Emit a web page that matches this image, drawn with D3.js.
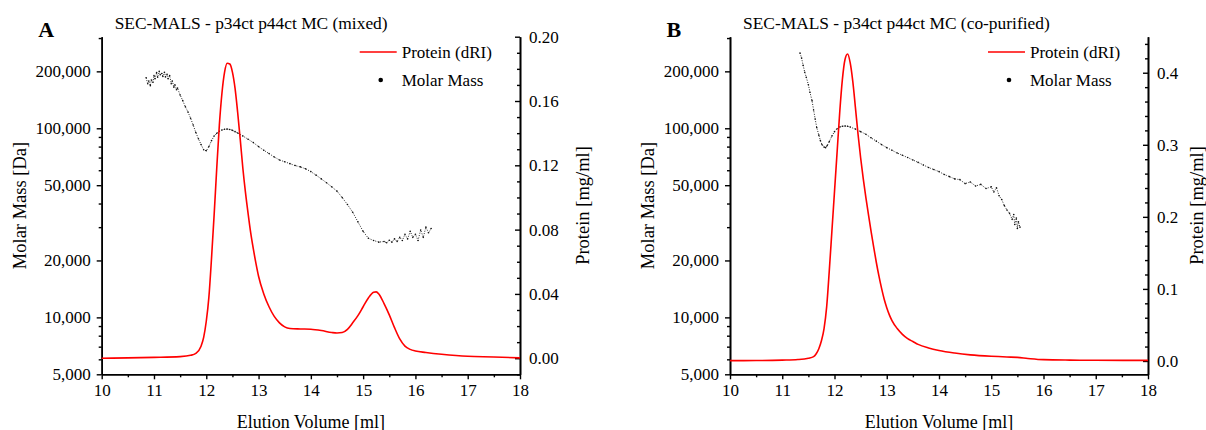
<!DOCTYPE html>
<html>
<head>
<meta charset="utf-8">
<script src="https://cdn.jsdelivr.net/npm/d3@7"></script>
<style>
body { margin: 0; background: #fff; }
text { font-family: "Liberation Serif", "DejaVu Serif", serif; fill: #000; }
</style>
</head>
<body>
<svg id="chart" width="1206" height="430"></svg>
<script>
// panel A : mixed
var volA  = [10.0, 10.5, 11.0, 11.5, 11.7, 11.8, 11.9, 11.95, 12.0, 12.05, 12.1, 12.15, 12.2, 12.25, 12.3, 12.35, 12.4, 12.45,
             12.5, 12.55, 12.6, 12.65, 12.7, 12.75, 12.8, 12.85, 12.9, 12.95, 13.0, 13.1, 13.2, 13.3, 13.4, 13.5, 13.6, 13.8,
             14.0, 14.2, 14.4, 14.5, 14.6, 14.7, 14.8, 14.9, 15.0, 15.1, 15.2, 15.25, 15.3, 15.4, 15.5, 15.6, 15.7, 15.8,
             15.9, 16.0, 16.2, 16.5, 17.0, 17.5, 18.0];
var protA = [0.0000, 0.0002, 0.0005, 0.0010, 0.0018, 0.0030, 0.0075, 0.0130, 0.0230, 0.0380, 0.0620, 0.0890, 0.1180, 0.1450,
             0.1650, 0.1780, 0.1835, 0.1830, 0.1780, 0.1680, 0.1530, 0.1360, 0.1180, 0.1030, 0.0900, 0.0780, 0.0680, 0.0590,
             0.0510, 0.0400, 0.0320, 0.0260, 0.0220, 0.0195, 0.0185, 0.0182, 0.0180, 0.0172, 0.0160, 0.0157, 0.0160, 0.0180,
             0.0220, 0.0265, 0.0320, 0.0375, 0.0410, 0.0413, 0.0400, 0.0340, 0.0270, 0.0190, 0.0120, 0.0075, 0.0055, 0.0045,
             0.0036, 0.0025, 0.0012, 0.0008, 0.0002];
var mmVolA = [10.85, 10.88, 10.9, 10.93, 10.95, 10.98, 11.0, 11.02, 11.05, 11.07, 11.1, 11.12, 11.15, 11.17, 11.2, 11.22,
              11.25, 11.27, 11.3, 11.33, 11.35, 11.38, 11.4, 11.43, 11.45, 11.5, 11.55, 11.6, 11.65, 11.7, 11.75, 11.8,
              11.85, 11.9, 11.95, 12.0, 12.05, 12.1, 12.15, 12.2, 12.25, 12.3, 12.35, 12.4, 12.45, 12.5, 12.55, 12.6, 12.7,
              12.8, 12.9, 13.0, 13.1, 13.2, 13.3, 13.4, 13.5, 13.6, 13.7, 13.8, 13.9, 14.0, 14.1, 14.2, 14.3, 14.4, 14.5,
              14.6, 14.7, 14.8, 14.9, 15.0, 15.1, 15.2, 15.3, 15.4, 15.45, 15.5, 15.55, 15.6, 15.65, 15.7, 15.75, 15.8,
              15.85, 15.9, 15.95, 16.0, 16.05, 16.1, 16.15, 16.2, 16.25, 16.3];
var mmA = [185000, 172000, 178000, 168000, 180000, 175000, 190000, 183000, 197000, 186000, 200000, 192000, 195000, 188000,
           198000, 187000, 193000, 183000, 190000, 172000, 178000, 165000, 170000, 160000, 163000, 150000, 140000, 130000,
           122000, 113000, 104000, 95000, 88000, 82000, 77000, 76000, 80000, 86000, 91000, 94000, 96500, 98000, 98800,
           99000, 98600, 97500, 96000, 94500, 91000, 87500, 84000, 80000, 76500, 73500, 70500, 68000, 66500, 65000, 63500,
           62500, 61000, 59000, 56500, 54000, 51500, 49000, 46500, 43000, 39500, 36000, 32000, 28500, 26200, 25500, 25000,
           25200, 24800, 25600, 25000, 26000, 25200, 26500, 25500, 27500, 26000, 28500, 26500, 27500, 25500, 29000, 26500,
           30000, 28000, 29500];

// panel B : co-purified
var volB  = [10.0, 10.5, 11.0, 11.3, 11.5, 11.6, 11.65, 11.7, 11.75, 11.8, 11.85, 11.9, 11.95, 12.0, 12.05, 12.1, 12.15,
             12.2, 12.25, 12.3, 12.35, 12.4, 12.45, 12.5, 12.55, 12.6, 12.65, 12.7, 12.75, 12.8, 12.85, 12.9, 12.95, 13.0,
             13.05, 13.1, 13.2, 13.3, 13.4, 13.5, 13.6, 13.8, 14.0, 14.3, 14.6, 15.0, 15.3, 15.5, 15.7, 16.0, 16.5, 17.0, 18.0];
var protB = [0.0005, 0.0006, 0.0012, 0.0020, 0.0038, 0.0060, 0.0100, 0.0170, 0.0280, 0.0450, 0.0750, 0.1250, 0.1800,
             0.2350, 0.2900, 0.3450, 0.3900, 0.4180, 0.4260, 0.4140, 0.3880, 0.3520, 0.3150, 0.2820, 0.2530, 0.2270,
             0.2030, 0.1800, 0.1580, 0.1370, 0.1180, 0.1010, 0.0860, 0.0740, 0.0640, 0.0560, 0.0450, 0.0370, 0.0310,
             0.0270, 0.0230, 0.0180, 0.0145, 0.0110, 0.0085, 0.0065, 0.0055, 0.0050, 0.0035, 0.0018, 0.0012, 0.0010, 0.0008];
var mmVolB = [11.34, 11.37, 11.4, 11.43, 11.46, 11.5, 11.53, 11.57, 11.6, 11.63, 11.66, 11.7, 11.73, 11.76, 11.8, 11.83,
              11.86, 11.9, 11.95, 12.0, 12.05, 12.1, 12.15, 12.2, 12.25, 12.3, 12.4, 12.5, 12.6, 12.7, 12.8, 12.9, 13.0,
              13.1, 13.2, 13.3, 13.4, 13.5, 13.6, 13.7, 13.8, 13.9, 14.0, 14.1, 14.2, 14.3, 14.4, 14.5, 14.6, 14.7, 14.8,
              14.9, 15.0, 15.05, 15.1, 15.15, 15.2, 15.25, 15.3, 15.35, 15.4, 15.43, 15.45, 15.48, 15.5, 15.52, 15.55];
var mmB = [250000, 235000, 215000, 198000, 186000, 170000, 155000, 140000, 125000, 112000, 101000, 92000, 86000, 82000,
           79500, 79000, 81000, 85000, 91000, 96000, 99500, 101500, 102500, 102800, 102500, 101500, 99000, 96000, 93000,
           89000, 85500, 82000, 79000, 76500, 74000, 72000, 70000, 68000, 66000, 64000, 62000, 60500, 59000, 57000, 55500,
           54000, 53500, 51000, 52000, 49500, 50500, 48000, 49000, 46000, 48500, 44000, 42000, 39000, 37000, 35500, 33000,
           35000, 31000, 33500, 29500, 32000, 30000];

// axes
var xTicks = [10, 11, 12, 13, 14, 15, 16, 17, 18];
var massTicks = [5000, 10000, 20000, 50000, 100000, 200000];
var massMinor = [6000, 7000, 8000, 9000, 30000, 40000, 60000, 70000, 80000, 90000, 300000];
var protTicksA = [0, 0.04, 0.08, 0.12, 0.16, 0.2];
var protTicksB = [0, 0.1, 0.2, 0.3, 0.4];

var svg = d3.select("#chart");
var top_ = 36.7, bottom_ = 374.3;

var panels = [
  {letter: "A", title: "SEC-MALS - p34ct p44ct MC (mixed)", left: 101.7, right: 520,
   vol: volA, prot: protA, mmVol: mmVolA, mm: mmA,
   rDomain: [-0.01, 0.2], rTicks: protTicksA, rStep: 0.01, rFmt: ".2f", rLabelX: 589},
  {letter: "B", title: "SEC-MALS - p34ct p44ct MC (co-purified)", left: 730, right: 1148,
   vol: volB, prot: protB, mmVol: mmVolB, mm: mmB,
   rDomain: [-0.0185, 0.45], rTicks: protTicksB, rStep: 0.02, rFmt: ".1f", rLabelX: 1203}
];

panels.forEach(function(p) {
  var g = svg.append("g");

  var x = d3.scaleLinear().domain([10, 18]).range([p.left, p.right]);
  var yL = d3.scaleLog().domain([5000, 305000]).range([bottom_, top_]);
  var yR = d3.scaleLinear().domain(p.rDomain).range([bottom_, top_]);

  // minor ticks
  var xMinor = d3.range(10.5, 18, 1);
  var rMinor = d3.range(Math.ceil(p.rDomain[0] / p.rStep) * p.rStep, p.rDomain[1] + 1e-9, p.rStep)
                 .filter(function(v) { return !p.rTicks.some(function(t) { return Math.abs(t - v) < 1e-6; }); });

  function styleAxis(sel) {
    sel.select(".domain").attr("stroke-width", 1.6);
    sel.selectAll(".tick line").attr("stroke-width", 1.4);
    sel.selectAll(".tick text").style("font-family", "Liberation Serif").style("font-size", "17px");
  }

  g.append("g").attr("transform", "translate(0," + bottom_ + ")")
    .call(d3.axisBottom(x).tickValues(xMinor).tickSize(3).tickSizeOuter(0).tickFormat(""))
    .call(styleAxis);
  g.append("g").attr("transform", "translate(0," + bottom_ + ")")
    .call(d3.axisBottom(x).tickValues(xTicks).tickSize(5).tickSizeOuter(0).tickPadding(5).tickFormat(d3.format("d")))
    .call(styleAxis);

  g.append("g").attr("transform", "translate(" + p.left + ",0)")
    .call(d3.axisLeft(yL).tickValues(massMinor).tickSize(3).tickSizeOuter(0).tickFormat(""))
    .call(styleAxis);
  g.append("g").attr("transform", "translate(" + p.left + ",0)")
    .call(d3.axisLeft(yL).tickValues(massTicks).tickSize(5).tickSizeOuter(0).tickPadding(6).tickFormat(d3.format(",")))
    .call(styleAxis);

  g.append("g").attr("transform", "translate(" + p.right + ",0)")
    .call(d3.axisRight(yR).tickValues(rMinor).tickSize(-3).tickSizeOuter(0).tickFormat(""))
    .call(styleAxis);
  g.append("g").attr("transform", "translate(" + p.right + ",0)")
    .call(d3.axisRight(yR).tickValues(p.rTicks).tickSize(-5).tickSizeOuter(0).tickPadding(9).tickFormat(d3.format(p.rFmt)))
    .call(styleAxis);

  // molar mass (dotted scatter)
  var mmPts = p.mmVol.map(function(v, i) { return [v, p.mm[i]]; });
  g.append("path")
    .datum(mmPts)
    .attr("fill", "none")
    .attr("stroke", "#222")
    .attr("stroke-width", 1)
    .attr("stroke-dasharray", "1,1.5")
    .attr("d", d3.line().x(function(d) { return x(d[0]); }).y(function(d) { return yL(d[1]); }));
  g.selectAll(".mm").data(mmPts).enter().append("circle")
    .attr("class", "mm")
    .attr("cx", function(d) { return x(d[0]); })
    .attr("cy", function(d) { return yL(d[1]); })
    .attr("r", 0.8)
    .attr("fill", "#111");

  // protein (dRI)
  var prPts = p.vol.map(function(v, i) { return [v, p.prot[i]]; });
  g.append("path")
    .datum(prPts)
    .attr("fill", "none")
    .attr("stroke", "#ff0000")
    .attr("stroke-width", 1.6)
    .attr("d", d3.line().curve(d3.curveMonotoneX)
      .x(function(d) { return x(d[0]); }).y(function(d) { return yR(d[1]); }));

  // texts
  g.append("text").attr("x", p.left - 63.5).attr("y", 37)
    .style("font-size", "22px").style("font-weight", "bold").text(p.letter);
  g.append("text").attr("x", p.left + 13).attr("y", 29)
    .style("font-size", "17.4px").text(p.title);
  g.append("text")
    .attr("transform", "translate(" + (p.left - 76) + "," + ((top_ + bottom_) / 2) + ") rotate(-90)")
    .attr("text-anchor", "middle").style("font-size", "18.5px").text("Molar Mass [Da]");
  g.append("text")
    .attr("transform", "translate(" + p.rLabelX + "," + ((top_ + bottom_) / 2) + ") rotate(-90)")
    .attr("text-anchor", "middle").style("font-size", "18.5px").text("Protein [mg/ml]");
  g.append("text").attr("x", (p.left + p.right) / 2).attr("y", 427.5)
    .attr("text-anchor", "middle").style("font-size", "18px").text("Elution Volume [ml]");

  // legend
  var lg = g.append("g").attr("transform", "translate(" + p.left + ",0)");
  lg.append("line").attr("x1", 258).attr("x2", 295).attr("y1", 52).attr("y2", 52)
    .attr("stroke", "#ff0000").attr("stroke-width", 1.6);
  lg.append("text").attr("x", 300).attr("y", 57.5).style("font-size", "17px").text("Protein (dRI)");
  lg.append("circle").attr("cx", 279).attr("cy", 80).attr("r", 2.3).attr("fill", "#000");
  lg.append("text").attr("x", 300).attr("y", 85.5).style("font-size", "17px").text("Molar Mass");
});
</script>
</body>
</html>
